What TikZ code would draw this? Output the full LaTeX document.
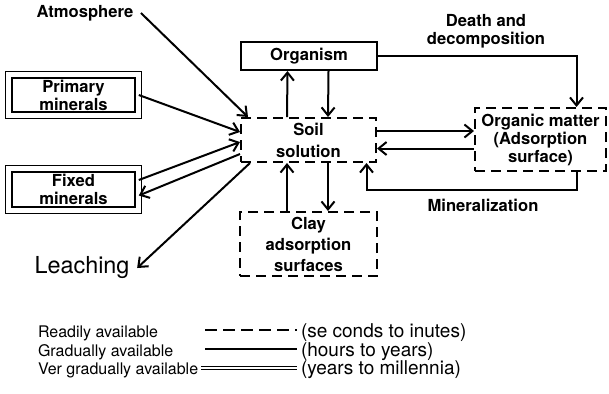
\documentclass[tikz,border=0pt]{standalone}
\usepackage{fontspec}
\setmainfont{TeX Gyre Heros}
\usetikzlibrary{arrows.meta}
\begin{document}
\begin{tikzpicture}[x=0.5pt,y=-0.5pt,line width=1pt,
    >={Straight Barb[length=4pt,width=6.5pt]},
    lbl/.style={font=\fontsize{8.3}{9}\selectfont\bfseries, align=center},
    pool/.style={lbl, draw, inner sep=0pt},
    fast/.style={dash pattern=on 5pt off 3pt},
    slow/.style={double, double distance=2.5pt, line width=0.7pt},
    leg/.style={font=\fontsize{8}{9}\selectfont, inner sep=0pt, anchor=base west},
    legr/.style={font=\fontsize{9.5}{10}\selectfont, inner sep=0pt, anchor=base west}]
    \useasboundingbox (0,0) rectangle (609,393);

    \node[pool, minimum width=68pt, minimum height=14pt] (org) at (309,56) {Organism};
    \node[pool, fast, minimum width=67.5pt, minimum height=22pt, font=\fontsize{8.3}{11}\selectfont\bfseries] (soil) at (308.5,140) {Soil\\solution};
    \node[pool, fast, minimum width=65.5pt, minimum height=31.5pt] (om) at (540.5,139.5) {Organic matter\\(Adsorption\\surface)};
    \node[pool, fast, minimum width=68.5pt, minimum height=32pt, font=\fontsize{8.3}{10.5}\selectfont\bfseries] (clay) at (308.5,244) {Clay\\adsorption\\surfaces};
    \node[pool, slow, minimum width=64.6pt, minimum height=20.1pt] (prim) at (73.5,95) {Primary\\minerals};
    \node[pool, slow, minimum width=64.6pt, minimum height=20.6pt] (fix) at (73.5,189.5) {Fixed\\minerals};

    \node[lbl] (atm) at (85,13) {Atmosphere};
    \node[lbl] (dd) at (486,31) {Death and\\decomposition};
    \node[lbl] (mn) at (483,205) {Mineralization};
    \node[font=\fontsize{11.7}{14}\selectfont] (lch) at (82,268) {Leaching};

    \draw[->] (atm.east) -- ([xshift=4pt]soil.north west);
    \draw[->] (prim.east) -- ([yshift=4pt]soil.west);
    \draw[->] ([yshift=4.75pt]fix.east) -- ([yshift=-1pt]soil.west);
    \draw[->] ([yshift=-7pt]soil.west) -- ([yshift=-3pt]fix.east);
    \draw[->] ([xshift=5pt]soil.south west) -- (lch.east);
    \draw[->] ([xshift=-10.75pt]soil.north) -- ([xshift=-10.75pt]org.south);
    \draw[->] ([xshift=9.75pt]org.south) -- ([xshift=9.75pt]soil.north);
    \draw[->] ([xshift=-10.75pt]clay.north) -- ([xshift=-10.75pt]soil.south);
    \draw[->] ([xshift=9.75pt]soil.south) -- ([xshift=9.75pt]clay.north);
    \draw[->] ([yshift=4.5pt]soil.east) -- ([yshift=4.5pt]soil.east -| om.west);
    \draw[->] ([yshift=-4.5pt]om.west) -- ([yshift=-4.5pt]om.west -| soil.east);
    \draw[->] (org.east) -| ([xshift=18pt]om.north);
    \draw[->] ([xshift=18pt]om.south) -- ++(0,18) -| ([xshift=29pt]soil.south);

    \node[leg] (ra) at (37,337) {Readily available};
    \node[leg] (ga) at (37,356) {Gradually available};
    \node[leg] (va) at (37,374) {Ver gradually available};
    \node[legr] (rt) at (300,337) {(se conds to inutes)};
    \node[legr] (gt) at (300,356) {(hours to years)};
    \node[legr] (vt) at (300,374) {(years to millennia)};
    \draw[line width=0.6pt, dash pattern=on 6pt off 3pt] ([xshift=-47.5pt,yshift=3.5pt]rt.base west) -- ([xshift=-1.5pt,yshift=3.5pt]rt.base west);
    \draw[line width=0.6pt] ([xshift=-47.5pt,yshift=3.5pt]gt.base west) -- ([xshift=-1.5pt,yshift=3.5pt]gt.base west);
    \draw[double, double distance=1.3pt, line width=0.5pt] ([xshift=1pt,yshift=3pt]va.base east) -- ([xshift=-1.5pt,yshift=3pt]vt.base west);
\end{tikzpicture}
\end{document}
